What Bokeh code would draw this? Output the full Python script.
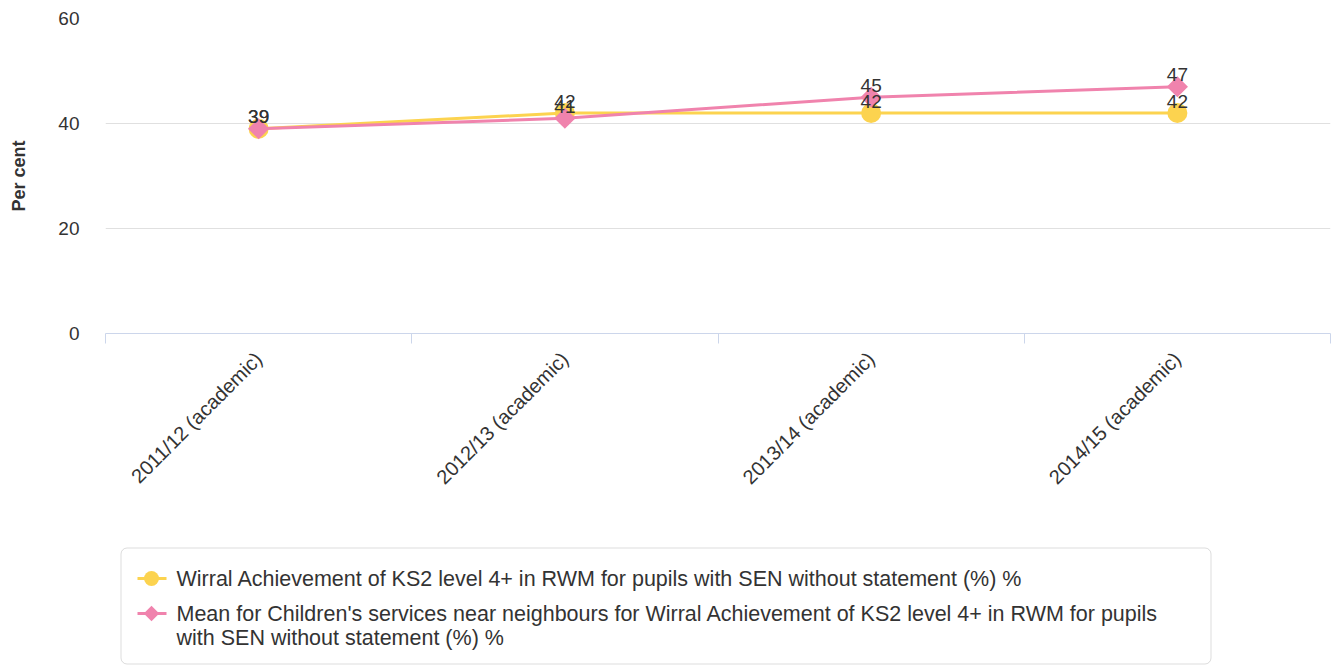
import math
from bokeh.plotting import figure
from bokeh.models import Range1d, FixedTicker, BoxAnnotation, ColumnDataSource
from bokeh.layouts import column
from bokeh.core.properties import value
from bokeh.embed import file_html
from bokeh.resources import INLINE

# ---- data ----
categories = ["2011/12 (academic)", "2012/13 (academic)", "2013/14 (academic)", "2014/15 (academic)"]
wirral = [39, 42, 42, 42]
neighbours = [39, 41, 45, 47]
legend_lines = [
    ["Wirral Achievement of KS2 level 4+ in RWM for pupils with SEN without statement (%) %"],
    ["Mean for Children's services near neighbours for Wirral Achievement of KS2 level 4+ in RWM for pupils",
     "with SEN without statement (%) %"],
]
y_ticks = [0, 20, 40, 60]
y_title = "Per cent"

FONT = "Liberation Sans"
TXT = "#333333"
YELLOW = "#fcd34f"
PINK = "#f083ad"

xs = [i + 0.5 for i in range(len(categories))]

W = 1331
H_MAIN = 520
H_LEG = 145
LEFT = 105
RIGHT_B = 1
TOP = 18
FRAME_H = 315

p = figure(width=W, height=H_MAIN, output_backend="svg", toolbar_location=None,
           x_range=Range1d(0, len(categories)), y_range=Range1d(0, 60),
           min_border_left=LEFT, min_border_right=RIGHT_B, min_border_top=TOP,
           min_border_bottom=H_MAIN - TOP - FRAME_H)
p.outline_line_color = None

# x axis: labels at category centres, tick marks at category boundaries
p.xaxis.ticker = FixedTicker(ticks=xs, minor_ticks=list(range(len(categories) + 1)))
p.xaxis.major_label_overrides = {x: c for x, c in zip(xs, categories)}
p.xaxis.major_label_orientation = math.pi / 4
p.xaxis.major_tick_line_color = None
p.xaxis.major_tick_out = 0
p.xaxis.major_tick_in = 0
p.xaxis.minor_tick_line_color = "#ccd6eb"
p.xaxis.minor_tick_out = 10
p.xaxis.minor_tick_in = 0
p.xaxis.axis_line_color = "#ccd6eb"
p.xaxis.major_label_text_font = FONT
p.xaxis.major_label_text_font_size = "20px"
p.xaxis.major_label_text_color = TXT
p.xaxis.major_label_standoff = 12

p.yaxis.ticker = FixedTicker(ticks=y_ticks)
p.yaxis.axis_line_color = None
p.yaxis.major_tick_line_color = None
p.yaxis.minor_tick_line_color = None
p.yaxis.major_tick_out = 0
p.yaxis.major_label_standoff = 26
p.yaxis.major_label_text_font = FONT
p.yaxis.major_label_text_font_size = "19px"
p.yaxis.major_label_text_color = TXT
p.yaxis.axis_label = y_title
p.yaxis.axis_label_text_font = FONT
p.yaxis.axis_label_text_font_style = "bold"
p.yaxis.axis_label_text_font_size = "18px"
p.yaxis.axis_label_text_color = TXT
p.yaxis.axis_label_standoff = 26

p.xgrid.grid_line_color = None
p.ygrid.ticker = FixedTicker(ticks=y_ticks)
p.ygrid.grid_line_color = "#e0e0e0"
p.ygrid.grid_line_width = 1

src_w = ColumnDataSource(dict(x=xs, y=wirral, t=[str(v) for v in wirral]))
src_n = ColumnDataSource(dict(x=xs, y=neighbours, t=[str(v) for v in neighbours]))

p.line("x", "y", source=src_w, line_color=YELLOW, line_width=3)
p.scatter("x", "y", source=src_w, marker="circle", size=20, fill_color=YELLOW, line_color=None)
p.line("x", "y", source=src_n, line_color=PINK, line_width=3)
p.scatter("x", "y", source=src_n, marker="square", angle=math.pi / 4, size=15,
          fill_color=PINK, line_color=None)

for s in (src_w, src_n):
    p.text("x", "y", text="t", source=s, text_align="center", text_baseline="alphabetic",
           y_offset=-12, text_font=value(FONT), text_font_size="19px", text_color=TXT)

# ---- legend figure (coordinates in page pixels) ----
lg = figure(width=W, height=H_LEG, output_backend="svg", toolbar_location=None,
            x_range=Range1d(LEFT, W - RIGHT_B), y_range=Range1d(H_MAIN + H_LEG, H_MAIN),
            min_border_left=LEFT, min_border_right=RIGHT_B, min_border_top=0, min_border_bottom=0)
lg.outline_line_color = None
lg.xaxis.visible = False
lg.yaxis.visible = False
lg.grid.visible = False

box = BoxAnnotation(left=120.5, right=1210.5, top=547.5, bottom=663.5,
                    fill_alpha=0, line_color="#8c8c8c", line_width=1, border_radius=6)
lg.add_layout(box)

row_y = [578, 613]
line_gap = 24
colors = [YELLOW, PINK]
for i, lines in enumerate(legend_lines):
    y0 = row_y[i]
    lg.segment(x0=[137], y0=[y0], x1=[166], y1=[y0], line_color=colors[i], line_width=3)
    if i == 0:
        lg.scatter([151], [y0], marker="circle", size=15, fill_color=colors[i], line_color=None)
    else:
        lg.scatter([151], [y0], marker="square", angle=math.pi / 4, size=11,
                   fill_color=colors[i], line_color=None)
    lg.text([176] * len(lines), [y0 + k * line_gap for k in range(len(lines))], text=lines,
            text_align="left", text_baseline="middle", text_font=value(FONT),
            text_font_size="21.5px", text_color=TXT)

layout = column(p, lg, spacing=0)
open("out.html", "w").write(file_html(layout, INLINE))
